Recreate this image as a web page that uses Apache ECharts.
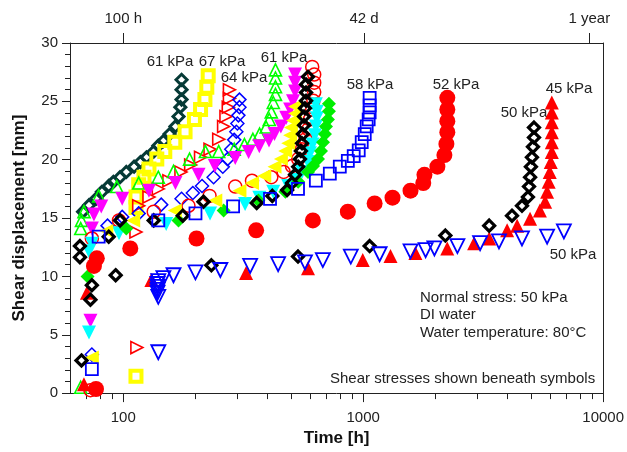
<!DOCTYPE html>
<html>
<head>
<meta charset="utf-8">
<script src="https://cdn.jsdelivr.net/npm/echarts@6/dist/echarts.min.js"></script>
<style>
html, body { margin: 0; padding: 0; background: #fff; }
#main { width: 627px; height: 452px; }
</style>
</head>
<body>
<div id="main"></div>
<script>
// [time h, shear displacement mm] per test
var dark61 = [[175,26.85],[175,26.0],[175,25.15],[173,24.5],[170,23.7],[165,22.85],[156,22.2],[147,21.6],[140,21.2],[134,20.7],[125,20.2],[118,19.8],[111,19.4],[103,18.95],[97,18.5],[91,18.1],[87,17.75],[81.5,17.25],[77,16.65],[72,16.1],[68,15.55]];
var yellow67 = [[226,27.2],[223,26.2],[219,25.15],[210,24.3],[198,23.45],[181,22.4],[164,21.5],[149,20.7],[138,20.05],[128,19.2],[122,18.5],[116,17.85],[113,16.8],[113,15.9],[113,1.45]];
var red64 = [[277,26.0],[277,25.25],[274,24.5],[268,23.7],[262,22.85],[250,21.75],[230,20.9],[210,20.2],[191,19.55],[174,18.95],[155,18.2],[140,17.5],[128,16.8],[116,16.05],[113,13.8],[114,3.9]];
var blueDia = [[305,25.15],[305,24.5],[302,23.8],[299,23.1],[296,22.4],[290,21.7],[282,20.9],[272,20.05],[260,19.4],[238,18.5],[213,17.75],[195,17.15],[175,16.65],[144,16.15],[116,15.4],[99,15.1],[86,14.35],[74,3.3]];
var green61 = [[431,27.7],[431,27.0],[431,26.25],[431,25.6],[422,24.9],[414,24.1],[406,23.45],[394,22.8],[370,22.2],[347,21.75],[320,21.3],[290,20.9],[250,20.7],[220,20.7],[189,20.05],[162,19.0],[140,18.5],[116,18.0],[94,17.7],[79,16.9],[68.6,15.55],[67,14.8],[66.5,14.1],[66.5,0.5]];
var magenta = [[520,27.3],[520,26.6],[520,25.85],[510,25.0],[496,24.3],[478,23.6],[454,22.85],[427,22.2],[405,21.65],[369,21.15],[333,20.65],[293,20.15],[241,19.45],[206,18.7],[165,18.0],[128,17.35],[99,16.65],[81,16.0],[75.5,15.3],[74,14.1],[73,6.2]];
var redOpen = [[613,27.95],[625,27.3],[625,26.6],[625,25.8],[620,25.05],[613,24.3],[600,23.45],[590,22.6],[575,21.75],[555,20.9],[536,20.05],[505,19.45],[466,18.95],[414,18.5],[344,18.2],[293,17.7],[229,16.9],[187,16.05],[134,15.55],[96,14.8],[74,13.25],[73,0.25]];
var cyan = [[635,24.75],[641,24.1],[641,23.55],[635,22.85],[629,22.1],[615,21.3],[600,20.55],[589,19.8],[556,18.95],[520,18.25],[487,17.75],[422,17.25],[369,16.75],[322,16.2],[230,15.4],[151,14.5],[96,13.7],[74,12.8],[72,12.15],[72,5.2]];
var greenDia = [[720,24.8],[720,24.15],[713,23.45],[700,22.85],[693,22.2],[680,21.5],[667,20.75],[648,20.05],[618,19.45],[589,18.95],[536,18.1],[474,17.25],[366,16.5],[262,15.65],[170,14.8],[103,14.1],[71,10.0]];
var yellowTri = [[520,24.55],[520,23.95],[510,23.35],[500,22.75],[496,22.1],[487,21.4],[473,20.75],[454,20.05],[427,19.4],[387,18.6],[344,18.0],[305,17.35],[242,16.5],[164,15.65],[110,14.8],[85,13.9],[74,3.05]];
var blackMid = [[589,27.1],[578,26.45],[578,25.75],[578,25.05],[572,24.4],[567,23.7],[567,22.95],[561,22.2],[556,21.4],[550,20.75],[545,20.05],[536,19.4],[520,18.7],[505,18.0],[482,17.4],[418,16.9],[360,16.3],[216,16.4],[177,15.2],[134,14.8],[97,14.8],[87,13.4],[66,12.6],[66,11.65]];
var blue58 = [[1064,25.3],[1064,24.65],[1064,24.05],[1054,23.45],[1034,22.85],[1015,22.2],[986,21.5],[958,20.8],[913,20.3],[863,19.9],[799,19.4],[726,18.8],[635,18.2],[535,17.5],[409,16.65],[287,16.0],[200,15.4],[140,14.8],[79,13.4],[74,2.05]];
var red52 = [[2242,25.3],[2242,24.3],[2242,23.3],[2242,22.35],[2222,21.35],[2180,20.4],[2038,19.4],[1800,18.7],[1780,18.0],[1575,17.35],[1325,16.75],[1116,16.25],[863,15.55],[617,14.8],[358,13.95],[202,13.25],[107,12.4],[77.6,11.55],[75.5,10.9],[77,0.35]];
var red45 = [[6110,24.9],[6110,24.05],[6110,23.2],[6110,22.35],[6110,21.5],[6110,20.65],[6050,19.8],[5990,18.95],[5930,18.1],[5840,17.25],[5730,16.4],[5450,15.65],[4960,14.95],[4380,14.35],[3980,13.95],[3350,13.25],[2900,12.85],[2240,12.4],[1650,12.0],[1300,11.75],[996,11.4],[589,10.7],[325,10.3],[131,9.7],[70.6,8.6],[68.6,0.75]];
var black50 = [[5150,22.75],[5150,21.9],[5100,21.1],[5050,20.2],[5000,19.4],[4960,18.5],[4910,17.7],[4860,16.8],[4590,16.05],[4170,15.2],[3350,14.35],[2200,13.5],[1064,12.6],[535,11.7],[233,10.95],[93,10.1],[74,9.25],[73,8.0],[67,2.8]];
var blue50 = [[6860,13.85],[5840,13.4],[4590,13.25],[3680,13.0],[3070,12.85],[2470,12.6],[1980,12.4],[1820,12.25],[1575,12.15],[1171,11.9],[888,11.7],[679,11.4],[572,11.2],[442,11.05],[338,10.9],[254,10.55],[200,10.35],[162,10.1],[147,9.85],[140,9.6],[139,9.35],[139,9.1],[139,8.85],[139,8.6],[140,8.25],[140,3.5]];

var majorTicks = [100, 1000, 10000];
var minorTicks = [70, 80, 90, 200, 300, 400, 500, 600, 700, 800, 900, 2000, 3000, 4000, 5000, 6000, 7000, 8000, 9000];
var topTicks = [100, 1008, 8760];
var topLabels = ['100 h', '42 d', '1 year'];

var font = 'Liberation Sans, Arial, sans-serif';
var lg = function (v) { return Math.log(v) / Math.LN10; };
var xMin = 60, xMax = 10000;

var chart = echarts.init(document.getElementById('main'));

function sc(data, symbol, size, rot, fill, stroke, bw) {
  return {
    type: 'scatter',
    xAxisIndex: 0,
    yAxisIndex: 0,
    data: data,
    symbol: symbol,
    symbolSize: size,
    symbolRotate: rot,
    clip: false,
    silent: true,
    itemStyle: { color: fill, borderColor: stroke, borderWidth: bw, opacity: 1 }
  };
}
var none = 'rgba(0,0,0,0)';

// decoration axes share the log range of the data axis
function decoAxis(pos, ticks, len, labels) {
  return {
    type: 'value',
    position: pos,
    min: lg(xMin),
    max: lg(xMax),
    axisLine: { show: pos === 'top', lineStyle: { color: '#222', width: 1 } },
    axisTick: { show: true, customValues: ticks.map(lg), length: len, lineStyle: { color: '#222' } },
    axisLabel: labels ? {
      show: true,
      customValues: ticks.map(lg),
      formatter: labels,
      fontSize: 15, fontFamily: font, color: '#222',
      margin: pos === 'top' ? 17 : 17
    } : { show: false },
    splitLine: { show: false }
  };
}

var bottomMajor = decoAxis('bottom', majorTicks, 9, function (v) {
  return String(Math.round(Math.pow(10, v)));
});
bottomMajor.name = 'Time [h]';
bottomMajor.nameLocation = 'middle';
bottomMajor.nameGap = 35;
bottomMajor.nameTextStyle = { fontSize: 17, fontWeight: 'bold', fontFamily: font, color: '#111' };

var topAxis = decoAxis('top', topTicks, 10, function (v) {
  for (var i = 0; i < topTicks.length; i++) {
    if (Math.abs(lg(topTicks[i]) - v) < 1e-6) return topLabels[i];
  }
  return '';
});

chart.setOption({
  animation: false,
  backgroundColor: '#fff',
  grid: { left: 70, right: 21, top: 43, bottom: 57 },
  xAxis: [
    {
      type: 'log', logBase: 10, min: xMin, max: xMax, position: 'bottom',
      axisLine: { show: true, lineStyle: { color: '#222', width: 1 } },
      axisTick: { show: false }, axisLabel: { show: false },
      splitLine: { show: false }, minorTick: { show: false }, minorSplitLine: { show: false }
    },
    decoAxis('bottom', minorTicks, 6, null),
    bottomMajor,
    topAxis
  ],
  yAxis: [
    {
      type: 'value', min: 0, max: 30, interval: 5, position: 'left',
      axisLine: { show: true, lineStyle: { color: '#222', width: 1 } },
      axisTick: { show: true, length: 8, lineStyle: { color: '#222' } },
      minorTick: { show: true, splitNumber: 5, length: 5, lineStyle: { color: '#222' } },
      axisLabel: { fontSize: 15, fontFamily: font, color: '#222', margin: 12 },
      splitLine: { show: false },
      name: 'Shear displacement [mm]',
      nameLocation: 'middle', nameGap: 42, nameRotate: 90,
      nameTextStyle: { fontSize: 17, fontWeight: 'bold', fontFamily: font, color: '#111' }
    },
    {
      type: 'value', min: 0, max: 30, position: 'right',
      axisLine: { show: true, lineStyle: { color: '#222', width: 1 } },
      axisTick: { show: false }, axisLabel: { show: false }, splitLine: { show: false }
    }
  ],
  series: [
    sc(dark61, 'diamond', 11, 0, none, '#063a36', 3),
    sc(yellow67, 'rect', 11, 0, none, '#ffff00', 4),
    sc(red64, 'triangle', 12, -90, none, '#ff0000', 1.6),
    sc(blueDia, 'diamond', 13, 0, none, '#0000ff', 1.5),
    sc(green61, 'triangle', 12, 0, none, '#00ff00', 1.6),
    sc(magenta, 'triangle', 14, 180, '#ff00ff', '#ff00ff', 0),
    sc(redOpen, 'circle', 13, 0, none, '#ff0000', 1.5),
    sc(cyan, 'triangle', 14, 180, '#00ffff', '#00ffff', 0),
    sc(greenDia, 'diamond', 14, 0, '#00ee00', '#00ee00', 0),
    sc(yellowTri, 'triangle', 14, 90, '#ffff00', '#ffff00', 0),
    sc(blackMid, 'diamond', 11, 0, none, '#000', 3.2),
    sc(blue58, 'rect', 12, 0, none, '#0000ff', 1.8),
    sc(red52, 'circle', 16, 0, '#ff0000', '#ff0000', 0),
    sc(red45, 'triangle', 14, 0, '#ff0000', '#ff0000', 0),
    sc(black50, 'diamond', 11, 0, none, '#000', 3.2),
    sc(blue50, 'triangle', 14, 180, none, '#0000ff', 1.8)
  ],
  graphic: [
    { type: 'text', x: 170, y: 62, style: { text: '61 kPa', font: '15px ' + font, fill: '#222', align: 'center', verticalAlign: 'middle' } },
    { type: 'text', x: 222, y: 62, style: { text: '67 kPa', font: '15px ' + font, fill: '#222', align: 'center', verticalAlign: 'middle' } },
    { type: 'text', x: 244, y: 78, style: { text: '64 kPa', font: '15px ' + font, fill: '#222', align: 'center', verticalAlign: 'middle' } },
    { type: 'text', x: 284, y: 58, style: { text: '61 kPa', font: '15px ' + font, fill: '#222', align: 'center', verticalAlign: 'middle' } },
    { type: 'text', x: 370, y: 85, style: { text: '58 kPa', font: '15px ' + font, fill: '#222', align: 'center', verticalAlign: 'middle' } },
    { type: 'text', x: 456, y: 85, style: { text: '52 kPa', font: '15px ' + font, fill: '#222', align: 'center', verticalAlign: 'middle' } },
    { type: 'text', x: 524, y: 113, style: { text: '50 kPa', font: '15px ' + font, fill: '#222', align: 'center', verticalAlign: 'middle' } },
    { type: 'text', x: 569, y: 89, style: { text: '45 kPa', font: '15px ' + font, fill: '#222', align: 'center', verticalAlign: 'middle' } },
    { type: 'text', x: 573, y: 255, style: { text: '50 kPa', font: '15px ' + font, fill: '#222', align: 'center', verticalAlign: 'middle' } },
    { type: 'text', x: 420, y: 298, style: { text: 'Normal stress: 50 kPa', font: '15px ' + font, fill: '#222', align: 'left', verticalAlign: 'middle' } },
    { type: 'text', x: 420, y: 315, style: { text: 'DI water', font: '15px ' + font, fill: '#222', align: 'left', verticalAlign: 'middle' } },
    { type: 'text', x: 420, y: 333, style: { text: 'Water temperature: 80°C', font: '15px ' + font, fill: '#222', align: 'left', verticalAlign: 'middle' } },
    { type: 'text', x: 330, y: 379, style: { text: 'Shear stresses shown beneath symbols', font: '15px ' + font, fill: '#222', align: 'left', verticalAlign: 'middle' } }
  ]
});
</script>
</body>
</html>
